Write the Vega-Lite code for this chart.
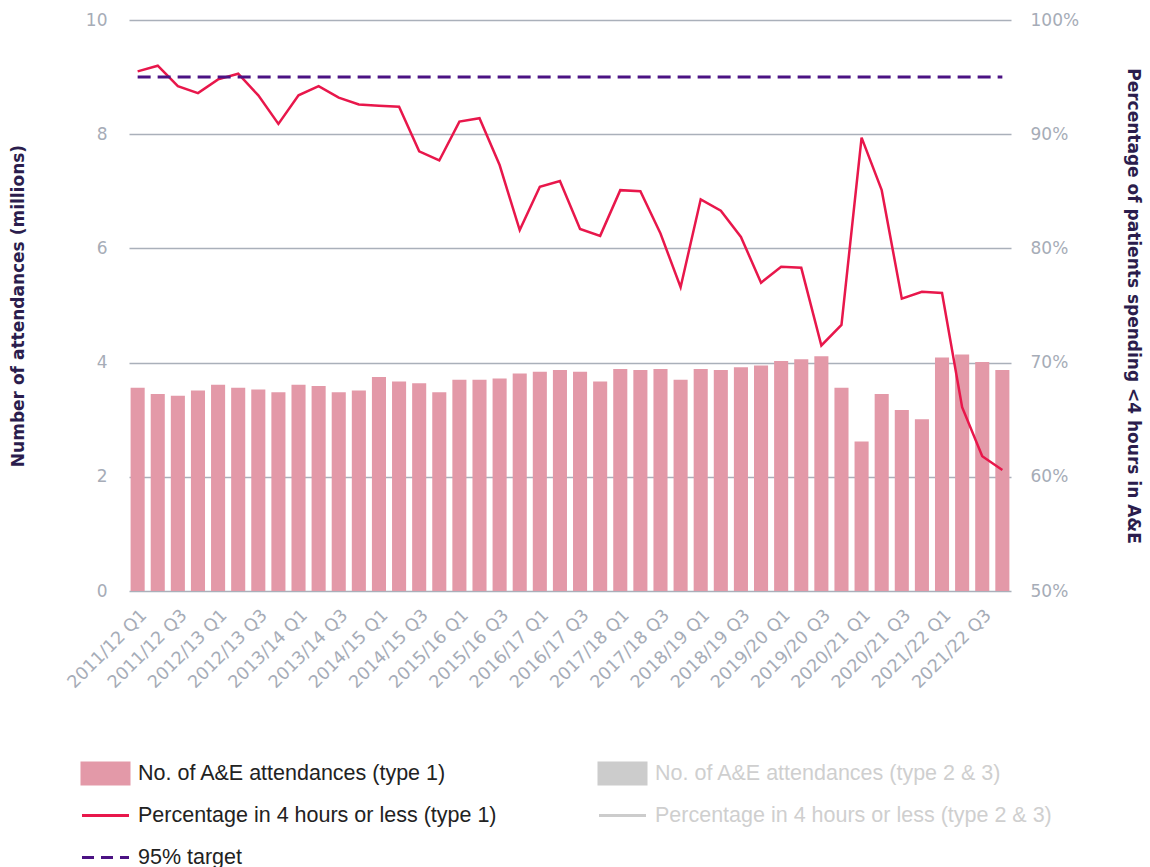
{
  "$schema": "https://vega.github.io/schema/vega-lite/v6.json",
  "width": 882,
  "height": 571,
  "autosize": {"type": "none"},
  "padding": {"left": 129, "top": 20, "right": 139, "bottom": 276},
  "background": "#ffffff",
  "config": {
    "view": {"stroke": null},
    "font": "DejaVu Sans",
    "axis": {
      "labelFont": "DejaVu Sans",
      "labelFontSize": 17,
      "labelColor": "#a6acb7",
      "titleFont": "DejaVu Sans",
      "titleFontSize": 17,
      "titleFontWeight": "bold",
      "titleColor": "#2b1d4d",
      "ticks": false,
      "tickSize": 0,
      "domain": false,
      "gridColor": "#aab0ba",
      "gridWidth": 1.5,
      "gridOpacity": 1
    }
  },
  "data": {
    "values": [
      {"q": "2011/12 Q1", "att": 3.56, "pct": 95.5, "target": 95},
      {"q": "2011/12 Q2", "att": 3.45, "pct": 96.0, "target": 95},
      {"q": "2011/12 Q3", "att": 3.42, "pct": 94.2, "target": 95},
      {"q": "2011/12 Q4", "att": 3.51, "pct": 93.6, "target": 95},
      {"q": "2012/13 Q1", "att": 3.61, "pct": 94.8, "target": 95},
      {"q": "2012/13 Q2", "att": 3.56, "pct": 95.3, "target": 95},
      {"q": "2012/13 Q3", "att": 3.53, "pct": 93.4, "target": 95},
      {"q": "2012/13 Q4", "att": 3.48, "pct": 90.9, "target": 95},
      {"q": "2013/14 Q1", "att": 3.61, "pct": 93.4, "target": 95},
      {"q": "2013/14 Q2", "att": 3.59, "pct": 94.2, "target": 95},
      {"q": "2013/14 Q3", "att": 3.48, "pct": 93.2, "target": 95},
      {"q": "2013/14 Q4", "att": 3.51, "pct": 92.6, "target": 95},
      {"q": "2014/15 Q1", "att": 3.75, "pct": 92.5, "target": 95},
      {"q": "2014/15 Q2", "att": 3.67, "pct": 92.4, "target": 95},
      {"q": "2014/15 Q3", "att": 3.64, "pct": 88.5, "target": 95},
      {"q": "2014/15 Q4", "att": 3.48, "pct": 87.7, "target": 95},
      {"q": "2015/16 Q1", "att": 3.70, "pct": 91.1, "target": 95},
      {"q": "2015/16 Q2", "att": 3.70, "pct": 91.4, "target": 95},
      {"q": "2015/16 Q3", "att": 3.72, "pct": 87.3, "target": 95},
      {"q": "2015/16 Q4", "att": 3.81, "pct": 81.6, "target": 95},
      {"q": "2016/17 Q1", "att": 3.84, "pct": 85.4, "target": 95},
      {"q": "2016/17 Q2", "att": 3.87, "pct": 85.9, "target": 95},
      {"q": "2016/17 Q3", "att": 3.84, "pct": 81.7, "target": 95},
      {"q": "2016/17 Q4", "att": 3.67, "pct": 81.1, "target": 95},
      {"q": "2017/18 Q1", "att": 3.89, "pct": 85.1, "target": 95},
      {"q": "2017/18 Q2", "att": 3.87, "pct": 85.0, "target": 95},
      {"q": "2017/18 Q3", "att": 3.89, "pct": 81.3, "target": 95},
      {"q": "2017/18 Q4", "att": 3.70, "pct": 76.6, "target": 95},
      {"q": "2018/19 Q1", "att": 3.89, "pct": 84.3, "target": 95},
      {"q": "2018/19 Q2", "att": 3.87, "pct": 83.3, "target": 95},
      {"q": "2018/19 Q3", "att": 3.92, "pct": 81.0, "target": 95},
      {"q": "2018/19 Q4", "att": 3.95, "pct": 77.0, "target": 95},
      {"q": "2019/20 Q1", "att": 4.03, "pct": 78.4, "target": 95},
      {"q": "2019/20 Q2", "att": 4.06, "pct": 78.3, "target": 95},
      {"q": "2019/20 Q3", "att": 4.11, "pct": 71.5, "target": 95},
      {"q": "2019/20 Q4", "att": 3.56, "pct": 73.3, "target": 95},
      {"q": "2020/21 Q1", "att": 2.62, "pct": 89.7, "target": 95},
      {"q": "2020/21 Q2", "att": 3.45, "pct": 85.1, "target": 95},
      {"q": "2020/21 Q3", "att": 3.17, "pct": 75.6, "target": 95},
      {"q": "2020/21 Q4", "att": 3.01, "pct": 76.2, "target": 95},
      {"q": "2021/22 Q1", "att": 4.09, "pct": 76.1, "target": 95},
      {"q": "2021/22 Q2", "att": 4.14, "pct": 66.1, "target": 95},
      {"q": "2021/22 Q3", "att": 4.01, "pct": 61.8, "target": 95},
      {"q": "2021/22 Q4", "att": 3.87, "pct": 60.6, "target": 95}
    ]
  },
  "layer": [
    {
      "mark": {"type": "bar"},
      "encoding": {
        "x": {
          "field": "q",
          "type": "nominal",
          "sort": null,
          "scale": {"paddingInner": 0.3, "paddingOuter": 0.08},
          "axis": {
            "title": null,
            "labelAngle": -45,
            "labelPadding": 15,
            "labelFontSize": 17.5,
            "labelExpr": "indexof(datum.label, 'Q1') > 0 || indexof(datum.label, 'Q3') > 0 ? datum.label : ''"
          }
        },
        "y": {
          "field": "att",
          "type": "quantitative",
          "scale": {"domain": [0, 10], "nice": false},
          "axis": {
            "orient": "left",
            "values": [0, 2, 4, 6, 8, 10],
            "grid": true,
            "labelPadding": 22,
            "title": "Number of attendances (millions)",
            "titlePadding": 58
          }
        },
        "color": {
          "datum": "No. of A&E attendances (type 1)",
          "scale": {
            "domain": [
              "No. of A&E attendances (type 1)",
              "Percentage in 4 hours or less (type 1)",
              "95% target",
              "No. of A&E attendances (type 2 & 3)",
              "Percentage in 4 hours or less (type 2 & 3)"
            ],
            "range": ["#e399a8", "#e8174b", "#4b1283", "#cccccc", "#cccccc"]
          },
          "legend": {
            "title": null,
            "orient": "none",
            "legendX": -40,
            "legendY": 737,
            "padding": 0,
            "columns": 2,
            "gridAlign": "all",
            "columnPadding": 57,
            "rowPadding": 9,
            "symbolSize": 900,
            "labelOffset": 16,
            "labelFont": "Liberation Sans",
            "labelFontSize": 21.5,
            "labelColor": "#222222",
            "labelLimit": 600,
            "encode": {
              "symbols": {
                "update": {
                  "shape": {"signal": "indexof(datum.value, 'No.') === 0 ? 'M-1.567,-0.7H1.567V0.7H-1.567Z' : 'M-1.567,0H1.567'"},
                  "fill": {"signal": "datum.value === 'No. of A&E attendances (type 1)' ? '#e399a8' : (datum.value === 'No. of A&E attendances (type 2 & 3)' ? '#cccccc' : 'transparent')"},
                  "stroke": {"signal": "indexof(datum.value, 'No.') === 0 ? 'transparent' : (datum.value === '95% target' ? '#4b1283' : (indexof(datum.value, 'type 1') > 0 ? '#e8174b' : '#cccccc'))"},
                  "strokeWidth": {"value": 3},
                  "strokeDash": {"signal": "datum.value === '95% target' ? [12, 7] : [60, 0]"},
                  "opacity": {"value": 1}
                }
              },
              "labels": {
                "update": {
                  "fill": {"signal": "indexof(datum.label, 'type 2') >= 0 ? '#cfcfcf' : '#222222'"}
                }
              }
            }
          }
        }
      }
    },
    {
      "layer": [
        {
          "mark": {"type": "line", "strokeWidth": 2.5},
          "encoding": {
            "x": {"field": "q", "type": "nominal", "sort": null},
            "y": {
              "field": "pct",
              "type": "quantitative",
              "scale": {"domain": [50, 100], "nice": false},
              "axis": {
                "orient": "right",
                "values": [50, 60, 70, 80, 90, 100],
                "grid": false,
                "labelPadding": 19,
                "labelExpr": "datum.value + '%'",
                "title": "Percentage of patients spending <4 hours in A&E",
                "titlePadding": 45
              }
            },
            "color": {"datum": "Percentage in 4 hours or less (type 1)"}
          }
        },
        {
          "mark": {"type": "line", "strokeWidth": 3, "strokeDash": [13, 7]},
          "encoding": {
            "x": {"field": "q", "type": "nominal", "sort": null},
            "y": {"field": "target", "type": "quantitative"},
            "color": {"datum": "95% target"}
          }
        }
      ]
    }
  ],
  "resolve": {"scale": {"y": "independent"}}
}
